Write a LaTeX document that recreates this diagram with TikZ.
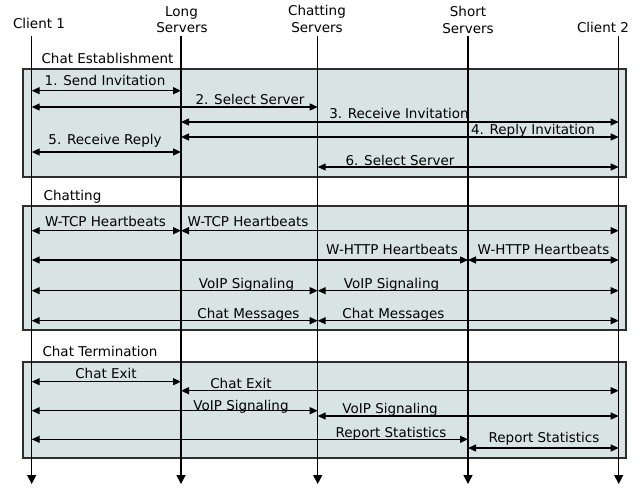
\documentclass[tikz,border=0pt]{standalone}
\usepackage{fontspec}
\setmainfont{DejaVu Sans}
\usetikzlibrary{arrows.meta}
\definecolor{phasefill}{HTML}{D8E4E4}
\definecolor{phaseedge}{HTML}{2E2E2E}
\begin{document}
\begin{tikzpicture}[x=1pt,y=-1pt,
  lifeline/.style={line width=1.3pt,-{Triangle[length=9pt,width=9pt]}},
  msg/.style={line width=1.3pt,{Triangle[length=8pt,width=7pt]}-{Triangle[length=8pt,width=7pt]}},
  lbl/.style={font=\fontsize{13.5}{16}\selectfont,inner sep=0pt,anchor=base},
  hdr/.style={font=\fontsize{13.5}{16}\selectfont,inner sep=0pt,align=center,anchor=base},
  phase/.style={draw=phaseedge,fill=phasefill,line width=1.8pt}]
\useasboundingbox (0,0) rectangle (644,487);
% phase boxes
\draw[phase] (22.7,69) rectangle (626,177);
\draw[phase] (22.7,206) rectangle (626,330);
\draw[phase] (22.7,362) rectangle (626,458);
% headers
\node[hdr] (h1) at (39,28.5) {Client 1};
\node[hdr,anchor=base] (h2a) at (181.5,16.5) {Long};
\node[hdr] (h2b) at (182,32.5) {Servers};
\node[hdr] (h3a) at (317,15.5) {Chatting};
\node[hdr] (h3b) at (317,32.5) {Servers};
\node[hdr] (h4a) at (468,16.5) {Short};
\node[hdr] (h4b) at (468,33.5) {Servers};
\node[hdr] (h5) at (603,32.5) {Client 2};
% lifelines
\coordinate (c1) at (31.7,36); \coordinate (c1b) at (31.7,484);
\coordinate (ls) at (181,36);  \coordinate (lsb) at (181,484);
\coordinate (ch) at (317.7,36); \coordinate (chb) at (317.7,484);
\coordinate (sh) at (468,36);  \coordinate (shb) at (468,484);
\coordinate (c2) at (618.7,36); \coordinate (c2b) at (618.7,484);
\foreach \a/\b in {c1/c1b,ls/lsb,ch/chb,sh/shb,c2/c2b}
  \draw[lifeline] (\a) -- (\b);
% phase titles
\node[lbl] (p1) at (107.5,63.5) {Chat Establishment};
\node[lbl] (p2) at (72.5,200.5) {Chatting};
\node[lbl] (p3) at (100,356) {Chat Termination};
% Chat establishment
\draw[msg] (c1 |- 0,90.7) -- (ls |- 0,90.7);
\node[lbl] (m1) at (105,85) {1. Send Invitation};
\draw[msg] (c1 |- 0,107) -- (ch |- 0,107);
\node[lbl] (m2) at (250,104.5) {2. Select Server};
\draw[msg] (ls |- 0,122) -- (c2 |- 0,122);
\node[lbl] (m3) at (399,118.5) {3. Receive Invitation};
\draw[msg] (ls |- 0,137) -- (c2 |- 0,137);
\node[lbl] (m4) at (533,134.5) {4. Reply Invitation};
\draw[msg] (c1 |- 0,152) -- (ls |- 0,152);
\node[lbl] (m5) at (105,144.5) {5. Receive Reply};
\draw[msg] (ch |- 0,167) -- (c2 |- 0,167);
\node[lbl] (m6) at (400,165.5) {6. Select Server};
% Chatting
\draw[msg] (c1 |- 0,230.7) -- (ls |- 0,230.7);
\draw[msg] (ls |- 0,230.7) -- (c2 |- 0,230.7);
\node[lbl] (t1) at (105.5,226) {W-TCP Heartbeats};
\node[lbl] (t2) at (248,226) {W-TCP Heartbeats};
\draw[msg] (c1 |- 0,260) -- (sh |- 0,260);
\draw[msg] (sh |- 0,260) -- (c2 |- 0,260);
\node[lbl] (w1) at (392,254.5) {W-HTTP Heartbeats};
\node[lbl] (w2) at (543.5,254.5) {W-HTTP Heartbeats};
\draw[msg] (c1 |- 0,290.7) -- (ch |- 0,290.7);
\draw[msg] (ch |- 0,290.7) -- (c2 |- 0,290.7);
\node[lbl] (v1) at (246.5,288) {VoIP Signaling};
\node[lbl] (v2) at (391.5,288) {VoIP Signaling};
\draw[msg] (c1 |- 0,320.7) -- (ch |- 0,320.7);
\draw[msg] (ch |- 0,320.7) -- (c2 |- 0,320.7);
\node[lbl] (cm1) at (248.5,318.5) {Chat Messages};
\node[lbl] (cm2) at (393.5,318.5) {Chat Messages};
% Termination
\draw[msg] (c1 |- 0,381.7) -- (ls |- 0,381.7);
\node[lbl] (e1) at (106,378.5) {Chat Exit};
\draw[msg] (ls |- 0,390.7) -- (c2 |- 0,390.7);
\node[lbl] (e2) at (241,388.5) {Chat Exit};
\draw[msg] (c1 |- 0,410.7) -- (ch |- 0,410.7);
\node[lbl] (tv1) at (241,410.5) {VoIP Signaling};
\draw[msg] (ch |- 0,416) -- (c2 |- 0,416);
\node[lbl] (tv2) at (390,413) {VoIP Signaling};
\draw[msg] (c1 |- 0,439.3) -- (sh |- 0,439.3);
\node[lbl] (r1) at (391,437) {Report Statistics};
\draw[msg] (sh |- 0,448) -- (c2 |- 0,448);
\node[lbl] (r2) at (544,442.5) {Report Statistics};
\end{tikzpicture}
\end{document}
